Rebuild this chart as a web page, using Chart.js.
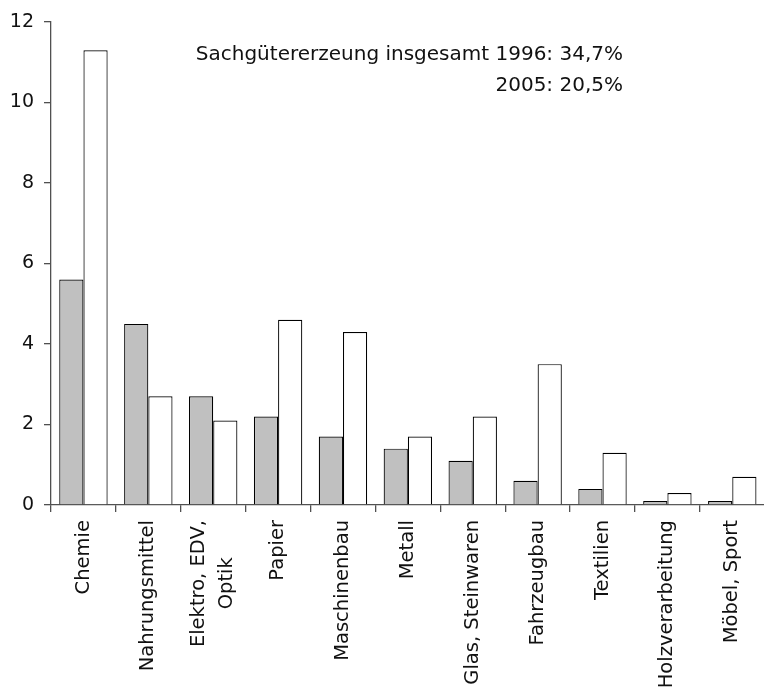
<!DOCTYPE html>
<html>
<head>
<meta charset="utf-8">
<script src="https://cdn.jsdelivr.net/npm/chart.js@4"></script>
<style>
  html,body{margin:0;padding:0;background:#fff;overflow:hidden;}
  #wrap{width:768px;height:700px;}
</style>
</head>
<body>
<div id="wrap"><canvas id="chart"></canvas></div>
<script>
const categories=["Chemie","Nahrungsmittel",["Elektro, EDV,","Optik      "],"Papier","Maschinenbau","Metall","Glas, Steinwaren","Fahrzeugbau","Textilien","Holzverarbeitung","Möbel, Sport"];
const values1996=[5.6,4.5,2.7,2.2,1.7,1.4,1.1,0.6,0.4,0.1,0.1];
const values2005=[11.3,2.7,2.1,4.6,4.3,1.7,2.2,3.5,1.3,0.3,0.7];
const yTicks=[0,2,4,6,8,10,12];
const noteLines=["Sachgütererzeung insgesamt 1996: 34,7%","2005: 20,5%"];

const FONT="'DejaVu Sans', sans-serif";
const axisColor="#505050";

// annotation in the upper right of the plot
const notePlugin={
  id:"note",
  beforeDraw(chart){
    // center the two-line label on its category
    const items=chart.scales.x.getLabelItems(chart.chartArea);
    items.forEach(it=>{
      if(Array.isArray(it.label)&&!it._shifted){it.options.translation[0]-=14;it._shifted=true;}
    });
  },
  afterDraw(chart){
    const ctx=chart.ctx;
    ctx.save();
    ctx.font="20px "+FONT;
    ctx.fillStyle="#111";
    ctx.textAlign="right";
    ctx.textBaseline="middle";
    ctx.fillText(noteLines[0],623,55);
    ctx.fillText(noteLines[1],623,86);
    ctx.restore();
  }
};

new Chart(document.getElementById("chart"),{
  type:"bar",
  data:{
    labels:categories,
    datasets:[
      {label:"1996",data:values1996,backgroundColor:"#c0c0c0",borderColor:"#000",borderWidth:1.2},
      {label:"2005",data:values2005,backgroundColor:"#fff",borderColor:"#000",borderWidth:1.2}
    ]
  },
  options:{
    responsive:true,maintainAspectRatio:false,animation:false,
    devicePixelRatio:1,
    layout:{padding:{top:22,right:1,left:0,bottom:0}},
    datasets:{bar:{categoryPercentage:0.746,barPercentage:1}},
    plugins:{legend:{display:false},tooltip:{enabled:false}},
    scales:{
      x:{
        grid:{display:true,drawOnChartArea:false,drawTicks:true,tickLength:7,color:axisColor,offset:true,lineWidth:1.3},
        border:{display:true,color:axisColor,width:1.3},
        ticks:{color:"#111",font:{family:FONT,size:19.5,lineHeight:1.42},minRotation:90,maxRotation:90,padding:8,autoSkip:false},
        afterFit(s){s.height=700-505;}
      },
      y:{
        min:0,max:12,
        afterBuildTicks(s){s.ticks=yTicks.map(v=>({value:v}));},
        grid:{display:true,drawOnChartArea:false,drawTicks:true,tickLength:7,color:axisColor,lineWidth:1.3},
        border:{display:true,color:axisColor,width:1.3},
        ticks:{color:"#111",font:{family:FONT,size:19},padding:10},
        afterFit(s){s.width=51;}
      }
    }
  },
  plugins:[notePlugin]
});
</script>
</body>
</html>
